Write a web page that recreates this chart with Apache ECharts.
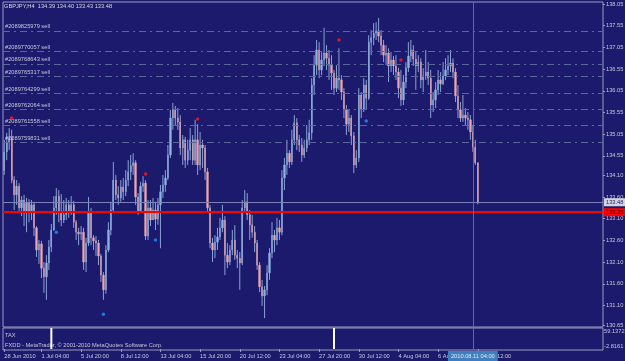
<!DOCTYPE html>
<html>
<head>
<meta charset="utf-8">
<script src="https://cdn.jsdelivr.net/npm/echarts@6/dist/echarts.min.js"></script>
<style>
  html, body { margin: 0; padding: 0; background: #1b1a6c; }
  #chart { width: 625px; height: 361px; }
</style>
</head>
<body>
<div id="chart"></div>
<script>
// GBPJPY H4 bars
const opens = [
  134.22,134.64,134.85,134.98,133.99,133.65,133.85,133.35,133.53,133.26,
  133.46,133.28,133.42,132.89,132.38,132.52,131.96,131.76,132.08,132.45,
  132.84,133.35,133.62,133.26,133.07,133.19,133.42,133.26,133.42,133.02,
  132.79,132.75,132.79,132.10,132.54,133.26,132.66,132.59,132.54,132.24,
  131.80,131.46,132.38,132.84,133.30,133.99,133.65,133.58,133.83,133.72,
  133.99,134.18,134.32,134.39,133.60,133.26,133.85,133.92,132.70,133.35,
  133.07,133.30,133.09,133.42,133.72,133.88,134.04,134.57,135.42,135.61,
  135.42,135.33,134.73,134.92,134.45,134.68,134.92,134.45,134.92,134.34,
  134.80,134.73,134.18,133.35,132.54,132.38,132.56,132.68,132.89,133.07,
  132.26,132.10,132.38,132.61,132.26,132.19,132.08,133.35,133.49,133.19,
  132.96,132.79,132.54,132.03,131.53,131.32,131.46,131.85,132.31,132.72,
  132.61,132.89,132.79,134.04,134.34,134.61,134.41,134.92,135.31,134.92,
  134.80,134.57,134.73,134.92,135.08,136.18,136.64,136.99,136.53,136.76,
  136.92,136.80,136.64,136.46,136.11,136.34,136.30,136.02,135.61,135.28,
  135.42,135.01,134.34,134.50,135.95,135.61,136.18,135.88,137.17,137.27,
  137.38,137.43,137.31,137.10,136.87,136.92,136.62,136.76,136.62,136.48,
  136.11,135.84,136.25,136.58,136.85,136.99,136.78,136.62,136.71,136.30,
  136.39,136.48,136.34,135.72,135.84,136.07,136.30,136.21,136.39,136.53,
  136.62,136.69,136.48,135.93,135.61,135.42,135.49,135.42,135.38,135.10,
  134.75,134.39
];
const closes = [
  134.64,134.85,134.98,133.99,133.65,133.85,133.35,133.53,133.26,133.46,
  133.28,133.42,132.89,132.38,132.52,131.96,131.76,132.08,132.45,132.84,
  133.35,133.62,133.26,133.07,133.19,133.42,133.26,133.42,133.02,132.79,
  132.75,132.79,132.10,132.54,133.26,132.66,132.59,132.54,132.24,131.80,
  131.46,132.38,132.84,133.30,133.99,133.65,133.58,133.83,133.72,133.99,
  134.18,134.32,134.39,133.60,133.26,133.85,133.92,132.70,133.35,133.07,
  133.30,133.09,133.42,133.72,133.88,134.04,134.57,135.42,135.61,135.42,
  135.33,134.73,134.92,134.45,134.68,134.92,134.45,134.92,134.34,134.80,
  134.73,134.18,133.35,132.54,132.38,132.56,132.68,132.89,133.07,132.26,
  132.10,132.38,132.61,132.26,132.19,132.08,133.35,133.49,133.19,132.96,
  132.79,132.54,132.03,131.53,131.32,131.46,131.85,132.31,132.72,132.61,
  132.89,132.79,134.04,134.34,134.61,134.41,134.92,135.31,134.92,134.80,
  134.57,134.73,134.92,135.08,136.18,136.64,136.99,136.53,136.76,136.92,
  136.80,136.64,136.46,136.11,136.34,136.30,136.02,135.61,135.28,135.42,
  135.01,134.34,134.50,135.95,135.61,136.18,135.88,137.17,137.27,137.38,
  137.43,137.31,137.10,136.87,136.92,136.62,136.76,136.62,136.48,136.11,
  135.84,136.25,136.58,136.85,136.99,136.78,136.62,136.71,136.30,136.39,
  136.48,136.34,135.72,135.84,136.07,136.30,136.21,136.39,136.53,136.62,
  136.69,136.48,135.93,135.61,135.42,135.49,135.42,135.38,135.10,134.75,
  134.39,133.48
];
const highs = [
  134.92,135.08,135.19,135.15,134.08,133.99,133.92,133.62,133.65,133.58,
  133.55,133.53,133.49,132.93,132.61,132.59,132.10,132.26,132.61,132.98,
  133.62,133.81,133.76,133.67,133.53,133.58,133.53,133.62,133.51,133.07,
  132.89,132.93,132.89,132.66,133.60,133.35,132.72,132.70,132.61,132.29,
  131.87,132.49,133.02,133.49,134.41,134.11,133.85,133.99,134.04,134.22,
  134.45,134.57,134.61,134.45,133.69,133.95,134.08,133.99,133.53,133.53,
  133.58,133.49,133.58,133.88,134.11,134.22,134.80,135.61,135.77,135.70,
  135.65,135.49,135.03,134.99,134.92,135.19,135.03,135.38,135.28,135.10,
  134.92,134.80,134.27,133.42,132.66,132.72,132.89,133.12,133.42,133.16,
  132.54,132.49,132.84,132.95,132.38,132.33,133.53,133.76,133.69,133.30,
  133.19,132.93,132.61,132.10,131.69,131.55,132.03,132.42,133.02,132.84,
  133.12,133.07,134.22,134.50,134.92,134.68,135.15,135.49,135.42,135.03,
  134.96,134.92,135.26,135.38,136.34,136.87,137.22,137.17,136.94,137.50,
  137.10,136.99,136.87,136.53,136.64,137.03,136.41,136.11,135.72,135.61,
  135.49,135.10,134.68,136.11,136.02,136.34,136.30,137.33,137.45,137.61,
  137.63,137.73,137.45,137.22,137.10,137.03,136.94,136.85,136.87,136.58,
  136.53,136.41,136.71,137.17,137.22,137.10,136.94,136.87,136.80,136.57,
  136.99,136.71,136.53,136.02,136.25,136.53,136.48,136.71,136.80,136.87,
  136.99,136.80,136.57,136.18,135.79,135.95,135.65,135.56,135.49,135.26,
  134.92,134.40
];
const lows = [
  134.11,134.45,134.68,133.92,133.30,133.42,133.23,133.16,132.93,132.79,
  133.02,133.07,132.70,132.22,132.06,131.73,131.39,131.23,131.92,132.33,
  132.82,133.19,133.02,132.93,133.00,133.07,133.12,133.19,132.89,132.61,
  132.49,132.61,131.92,131.87,132.47,132.49,132.38,132.24,132.03,131.64,
  131.23,131.37,132.33,132.72,133.26,133.53,133.42,133.49,133.53,133.62,
  133.85,133.99,134.11,133.42,133.19,133.26,133.72,132.61,132.61,132.93,
  133.07,132.84,132.96,132.42,133.58,133.72,133.99,134.50,135.15,135.26,
  135.15,134.57,134.34,134.27,134.34,134.45,134.34,134.34,134.11,134.22,
  134.27,133.99,133.26,132.42,132.10,132.19,132.38,132.61,132.79,131.80,
  131.96,132.03,132.26,132.15,131.96,131.46,132.03,133.26,133.07,132.61,
  132.66,132.33,131.92,131.41,131.09,130.81,131.34,131.69,132.19,132.33,
  132.49,132.61,132.72,133.76,134.11,134.27,134.34,134.80,134.68,134.64,
  134.41,134.50,134.64,134.80,134.92,135.95,136.41,136.34,136.41,136.62,
  136.53,136.30,136.07,135.95,136.02,136.07,135.84,135.42,135.03,135.10,
  134.80,134.15,134.27,134.41,135.42,135.56,135.61,135.84,136.87,137.10,
  137.22,137.17,136.87,136.71,136.64,136.25,136.48,136.41,136.30,135.88,
  135.70,135.72,136.11,136.48,136.71,136.62,136.07,136.48,136.11,136.02,
  136.30,136.18,135.42,135.56,135.65,135.95,136.02,136.18,136.30,136.41,
  136.48,136.34,135.79,135.42,135.33,135.33,135.26,135.15,134.92,134.64,
  134.34,133.43
];

// time axis: bar slots (incl. empty shift area) and labelled slots
const slotCount = 242;
const timeLabelIdx = [0, 15, 31, 47, 63, 79, 95, 111, 127, 143, 159, 175, 191];
const timeLabels = ['28 Jun 2010', '1 Jul 04:00', '5 Jul 20:00', '8 Jul 12:00', '13 Jul 04:00',
  '15 Jul 20:00', '20 Jul 12:00', '23 Jul 04:00', '27 Jul 20:00', '30 Jul 12:00',
  '4 Aug 04:00', '6 Aug 20:00', '11 Aug 12:00'];
const cursorIdx = 189;
const cursorLabel = '2010.08.11 04:00';

// price scale labels as MT4 shows them
const priceTicks = [130.65, 131.10, 131.60, 132.10, 132.60, 133.10, 133.60, 134.10,
  134.55, 135.05, 135.55, 136.05, 136.55, 137.05, 137.55, 138.05];

// open sell orders
const orderIds = ['#2089825979', '#2089770057', '#2089768643', '#2089765317',
  '#2089764299', '#2089762064', '#2089761558', '#2089759831'];
const orderPrices = [137.43, 136.95, 136.67, 136.38, 135.99, 135.63, 135.25, 134.87];
const bidPrice = 133.48;
const redLevel = 133.25;

// trade arrows
const sellIdx = [3, 57, 78, 135, 160];
const sellPrice = [135.42, 134.13, 135.40, 137.22, 136.76];
const buyIdx = [21, 40, 61, 146];
const buyPrice = [132.79, 130.90, 132.61, 135.35];

// TAX indicator window
const taxIdx = [19, 133];
const taxVal = [59.1372, 59.1372];
const taxMin = -2.8161;
const taxMax = 59.1372;

const FONT = 'Liberation Sans';
const FS = 5.7;
const TXT = '#c8c8dc';
const FRAME = '#9a9ac0';
const BULL = '#8fb4e2';
const BEAR = '#eea5ab';
const WICK = '#8aa2d4';

const categories = Array.from({ length: slotCount }, (_, i) => String(i));
const last = closes.length - 1;

const wickData = lows.map((l, i) => [i, l, highs[i]]);
const bodyData = opens.map((o, i) => [o, closes[i], Math.min(o, closes[i]), Math.max(o, closes[i])]);

const orderLines = orderPrices.map((p, k) => ({
  yAxis: p,
  lineStyle: { color: '#5a689c', type: [7, 4, 2, 4], width: 1 },
  label: {
    show: true, position: 'insideStartTop', formatter: orderIds[k] + ' sell',
    color: TXT, fontSize: FS, fontFamily: FONT, distance: [2, 1]
  }
}));

const chart = echarts.init(document.getElementById('chart'));

chart.setOption({
  backgroundColor: '#1b1a6c',
  animation: false,
  textStyle: { fontFamily: FONT },
  title: {
    text: 'GBPJPY,H4  ' + [opens[last], highs[last], lows[last], closes[last]].map(v => v.toFixed(2)).join(' '),
    left: 4, top: 3, padding: 0,
    textStyle: { color: '#d8d8e8', fontSize: FS, fontWeight: 'normal', fontFamily: FONT }
  },
  grid: [
    { left: 3, right: 22, top: 2, height: 325, show: true, borderColor: FRAME, borderWidth: 1, outerBoundsMode: 'none' },
    { left: 3, right: 22, top: 328, height: 22, show: true, borderColor: FRAME, borderWidth: 1, outerBoundsMode: 'none' }
  ],
  xAxis: [
    {
      type: 'category', gridIndex: 0, data: categories, boundaryGap: true,
      axisLine: { show: false }, axisTick: { show: false }, axisLabel: { show: false }
    },
    {
      type: 'category', gridIndex: 1, data: categories, boundaryGap: true,
      axisLine: { show: false },
      axisTick: {
        show: true, alignWithLabel: true, length: 3,
        interval: (i) => timeLabelIdx.indexOf(i) >= 0,
        lineStyle: { color: FRAME }
      },
      axisLabel: {
        interval: (i) => timeLabelIdx.indexOf(i) >= 0,
        formatter: (v, i) => timeLabels[timeLabelIdx.indexOf(i)] || '',
        align: 'left', color: TXT, fontSize: FS, fontFamily: FONT, margin: 3
      }
    }
  ],
  yAxis: [
    {
      type: 'value', gridIndex: 0, position: 'right',
      min: 130.604, max: 138.096,
      splitLine: { show: false },
      axisLine: { show: false },
      axisTick: { show: true, length: 2, customValues: priceTicks, lineStyle: { color: FRAME } },
      axisLabel: {
        customValues: priceTicks, formatter: v => v.toFixed(2),
        color: TXT, fontSize: FS, fontFamily: FONT, margin: 3
      }
    },
    {
      type: 'value', gridIndex: 1, position: 'right',
      min: taxMin, max: taxMax,
      splitLine: { show: false },
      axisLine: { show: false },
      axisTick: { show: false },
      axisLabel: {
        customValues: [taxMin, taxMax],
        formatter: v => (v === taxMax ? '{t|' : '{b|') + v.toFixed(4) + '}',
        rich: {
          t: { color: TXT, fontSize: FS, fontFamily: FONT, padding: [7, 0, 0, 0] },
          b: { color: TXT, fontSize: FS, fontFamily: FONT, padding: [0, 0, 8, 0] }
        },
        margin: 1
      }
    }
  ],
  graphic: [
    { type: 'text', left: 5, top: 332, style: { text: 'TAX', fill: TXT, font: FS + 'px ' + FONT } },
    { type: 'text', left: 5, top: 342, style: { text: 'FXDD - MetaTrader, © 2001-2010 MetaQuotes Software Corp.', fill: TXT, font: FS + 'px ' + FONT } }
  ],
  series: [
    {
      // high-low wicks, drawn through the axes
      name: 'wicks', type: 'custom', xAxisIndex: 0, yAxisIndex: 0, silent: true,
      data: wickData,
      renderItem: (params, api) => {
        const lo = api.coord([api.value(0), api.value(1)]);
        const hi = api.coord([api.value(0), api.value(2)]);
        return {
          type: 'line',
          shape: { x1: lo[0], y1: lo[1], x2: hi[0], y2: hi[1] },
          style: { stroke: WICK, lineWidth: 1 }
        };
      },
      z: 2
    },
    {
      name: 'GBPJPY', type: 'candlestick', xAxisIndex: 0, yAxisIndex: 0,
      data: bodyData, barWidth: 1.8, silent: true, z: 3,
      itemStyle: { color: BULL, color0: BEAR, borderColor: BULL, borderColor0: BEAR, borderWidth: 0.3 },
      markLine: {
        silent: true, symbol: ['none', 'none'], animation: false,
        data: orderLines.concat([
          {
            yAxis: bidPrice,
            lineStyle: { color: '#7b82b8', type: 'solid', width: 1 },
            label: {
              show: true, position: 'end', formatter: bidPrice.toFixed(2), distance: 1,
              backgroundColor: '#d4d4e0', color: '#1b1a6c', fontSize: FS, fontFamily: FONT, padding: [1, 2]
            }
          },
          {
            yAxis: redLevel,
            lineStyle: { color: '#ff0000', type: 'solid', width: 2 },
            label: {
              show: true, position: 'end', formatter: redLevel.toFixed(2), distance: 1,
              backgroundColor: '#ff0000', color: '#3a0000', fontSize: FS, fontFamily: FONT, padding: [1, 2]
            }
          },
          {
            xAxis: cursorIdx,
            lineStyle: { color: '#3a78b0', type: 'solid', width: 1 },
            label: { show: false }
          }
        ])
      }
    },
    {
      name: 'sell', type: 'scatter', xAxisIndex: 0, yAxisIndex: 0, silent: true,
      symbol: 'circle', symbolSize: 3.5, z: 5,
      itemStyle: { color: '#ff1a1a' },
      data: sellIdx.map((x, k) => [x, sellPrice[k]])
    },
    {
      name: 'buy', type: 'scatter', xAxisIndex: 0, yAxisIndex: 0, silent: true,
      symbol: 'circle', symbolSize: 3.5, z: 5,
      itemStyle: { color: '#1e90ff' },
      data: buyIdx.map((x, k) => [x, buyPrice[k]])
    },
    {
      name: 'TAX', type: 'bar', xAxisIndex: 1, yAxisIndex: 1, silent: true,
      barWidth: 2, itemStyle: { color: '#ffffff' },
      data: taxIdx.map((x, k) => [x, taxVal[k]]),
      markLine: {
        silent: true, symbol: ['none', 'none'], animation: false,
        data: [{
          xAxis: cursorIdx,
          lineStyle: { color: '#3a78b0', type: 'solid', width: 1 },
          label: {
            show: true, position: 'start', formatter: cursorLabel, distance: 1,
            backgroundColor: '#3f7fbf', color: '#e4ecf4', fontSize: FS, fontFamily: FONT, padding: [2, 3]
          }
        }]
      }
    }
  ]
});
</script>
</body>
</html>
